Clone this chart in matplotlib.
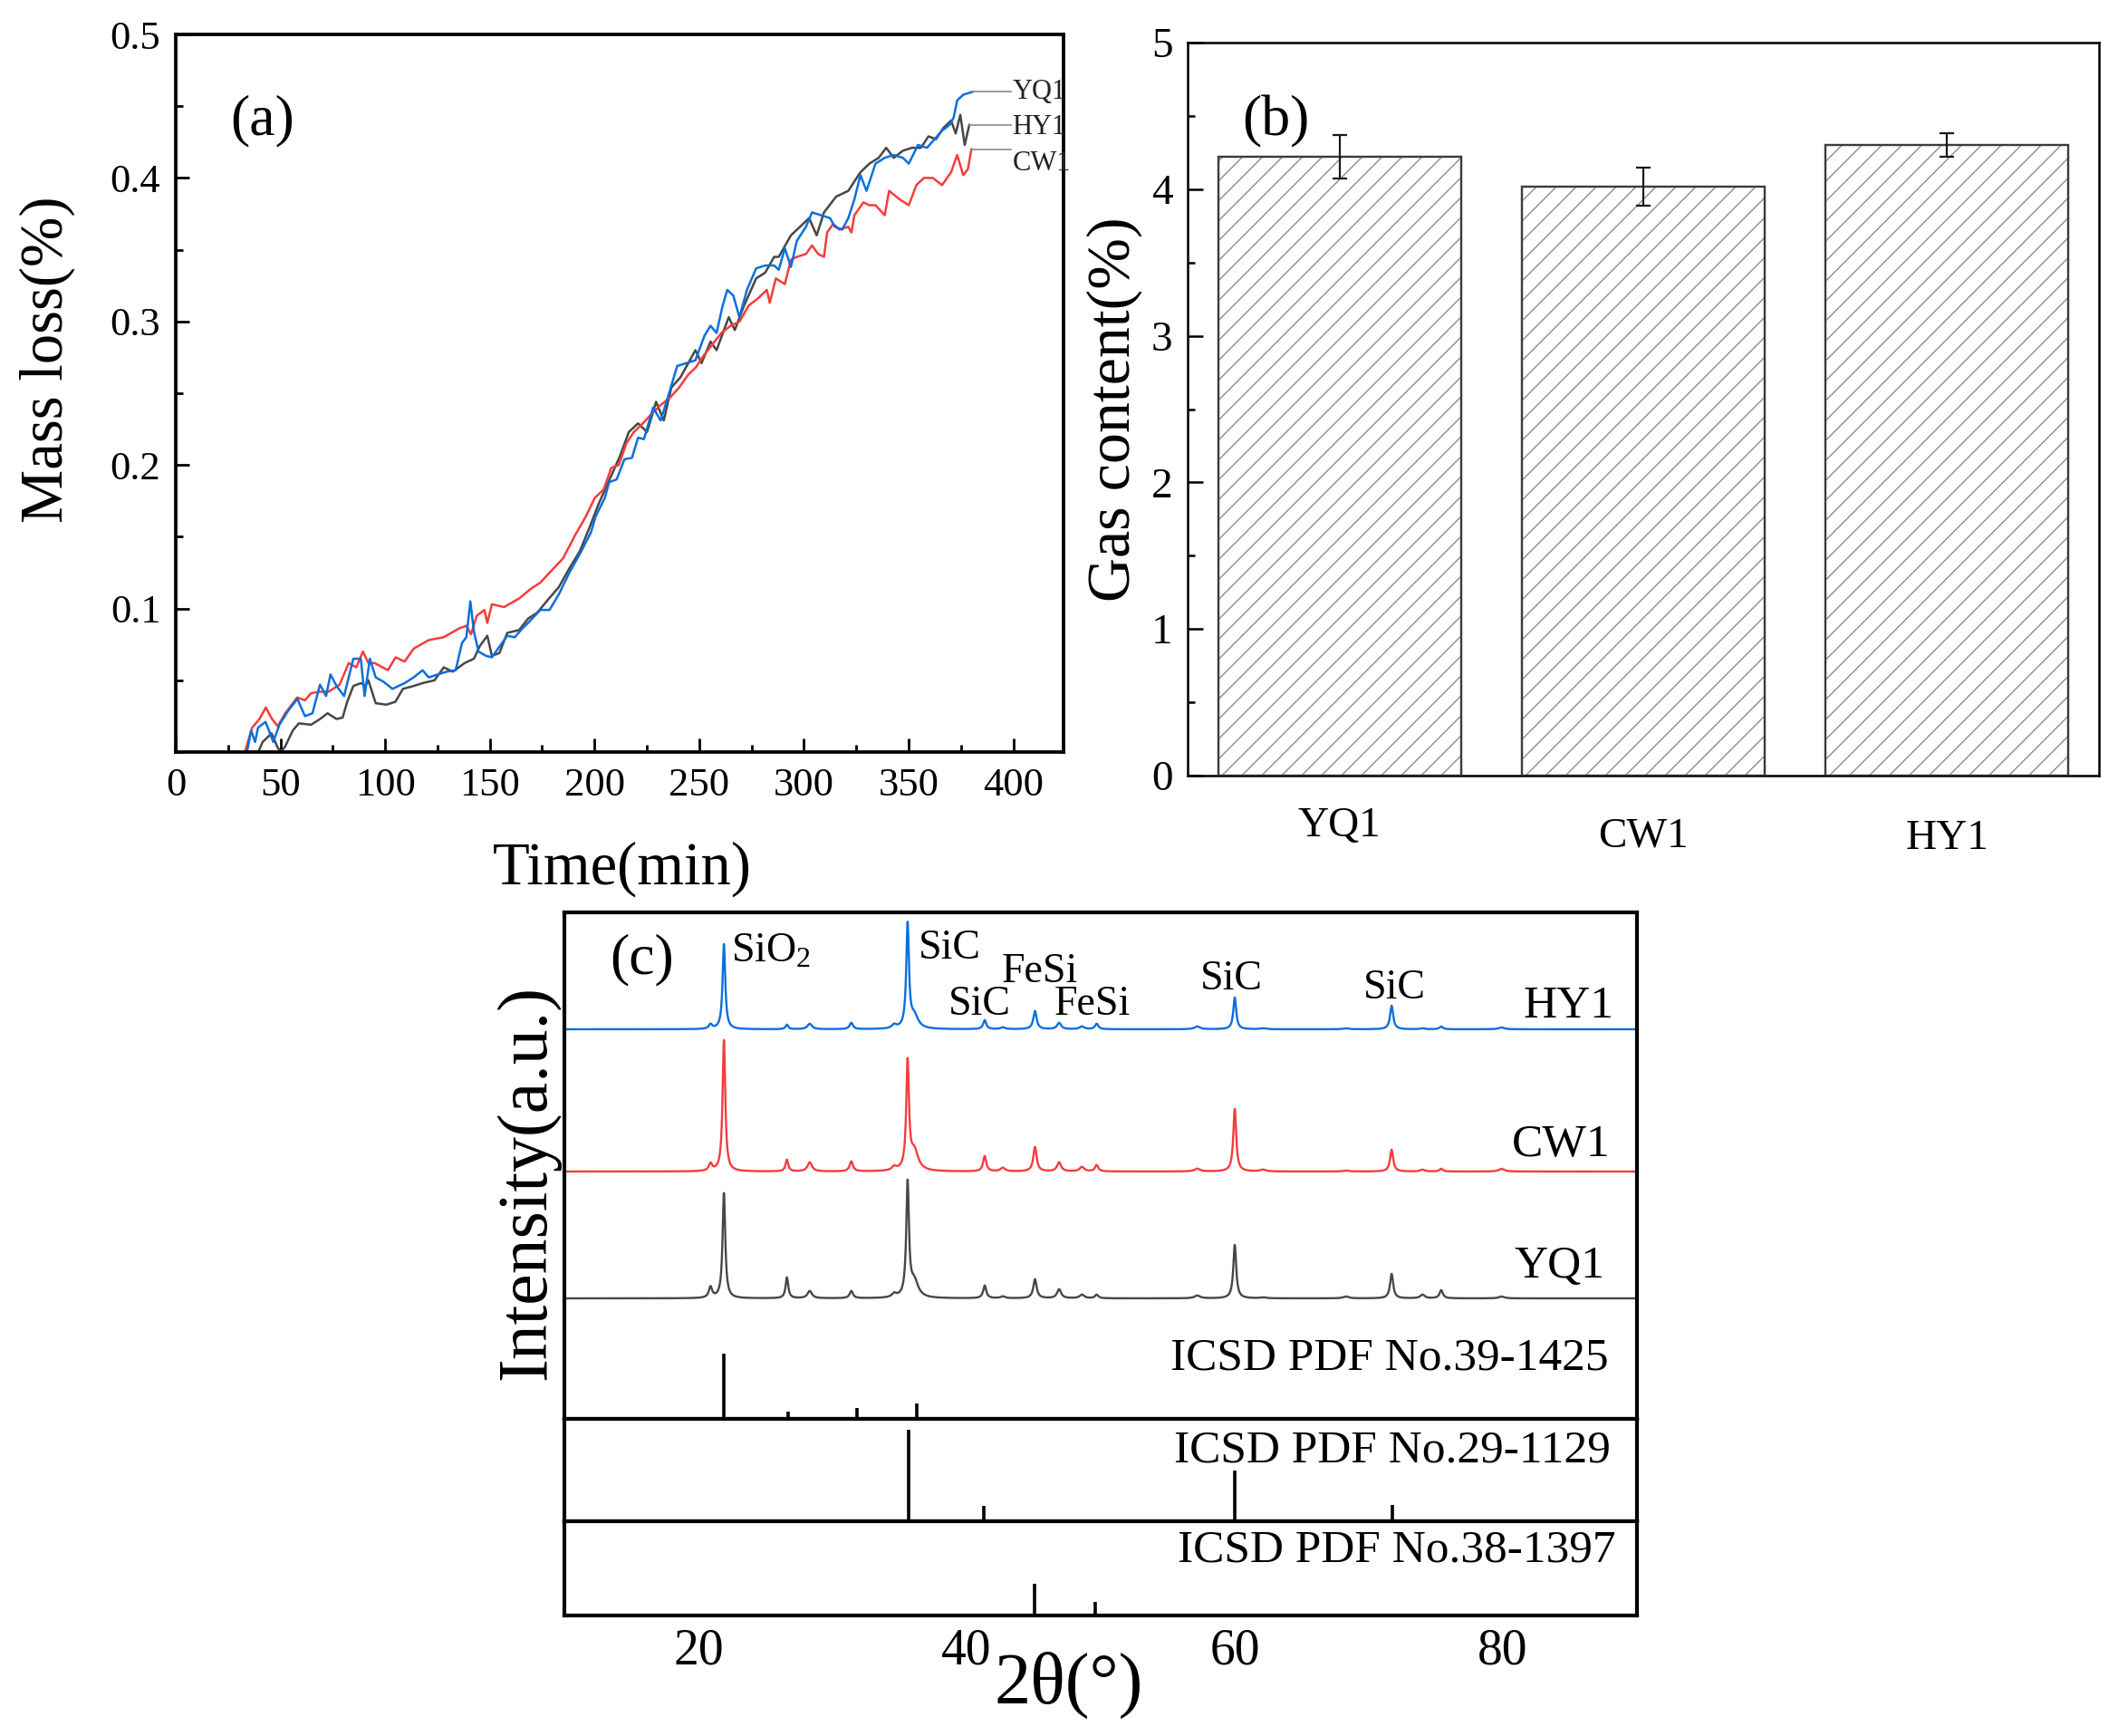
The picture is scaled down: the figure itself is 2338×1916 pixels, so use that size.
import numpy as np
import matplotlib
matplotlib.use("Agg")
import matplotlib.pyplot as plt
from matplotlib.ticker import MultipleLocator
from matplotlib.transforms import IdentityTransform, ScaledTranslation

plt.rcParams['font.family'] = ['Liberation Serif', 'DejaVu Serif']
plt.rcParams['mathtext.fontset'] = 'custom'
plt.rcParams['mathtext.rm'] = 'Liberation Serif'
plt.rcParams['mathtext.it'] = 'Liberation Serif:italic'

# ---- (a) mass loss vs time ----
cw1_t = [33, 36.5, 40, 43, 46, 48.7, 52.3, 58, 61.7, 64.6, 69, 73, 78.3, 82.6, 86.2, 89.4, 92, 95,
         101.3, 105, 109.3, 113.6, 120.8, 128, 135.2, 138.8, 141, 143.8, 147.4, 148.8, 151, 156.8,
         164, 169.8, 174.1, 179.2, 185, 190.7, 195.8, 200.1, 204.4, 208, 211.6, 215.2, 218.8, 223.1,
         227.5, 231.8, 236.1, 240.4, 244.8, 248.4, 252, 256.3, 260.6, 265, 269.3, 273.6, 278, 282.3,
         283.7, 286.6, 290.9, 293.8, 296.6, 301, 303.9, 306.8, 309.6, 311.1, 314, 316.9, 321.2, 322.7,
         324.1, 328.4, 331.3, 334.2, 338.6, 340.7, 345.8, 350.1, 353.7, 357.3, 361.6, 366, 370.3,
         373.2, 376.1, 378.3, 380]
cw1_v = [0, 0.017, 0.023, 0.031, 0.023, 0.018, 0.027, 0.038, 0.036, 0.041, 0.042, 0.042, 0.047,
         0.062, 0.059, 0.070, 0.062, 0.062, 0.057, 0.066, 0.063, 0.072, 0.078, 0.080, 0.086, 0.088,
         0.082, 0.095, 0.099, 0.090, 0.103, 0.101, 0.107, 0.114, 0.118, 0.126, 0.135, 0.151, 0.164,
         0.177, 0.183, 0.198, 0.200, 0.215, 0.223, 0.229, 0.236, 0.242, 0.247, 0.254, 0.263, 0.268,
         0.276, 0.284, 0.292, 0.297, 0.300, 0.311, 0.316, 0.322, 0.313, 0.330, 0.326, 0.343, 0.345,
         0.347, 0.353, 0.347, 0.345, 0.362, 0.368, 0.364, 0.366, 0.362, 0.374, 0.383, 0.381, 0.381,
         0.374, 0.391, 0.385, 0.381, 0.395, 0.400, 0.400, 0.395, 0.404, 0.416, 0.402, 0.406, 0.420]

yq1_t = [34, 36, 37.9, 39.3, 42.9, 46.6, 49.5, 53.8, 58.1, 61.7, 65.3, 68.9, 71.8, 73.9, 76.8, 80.4,
         84.8, 88.4, 90.2, 92.7, 95.5, 99.2, 103.5, 109.3, 113.6, 117.9, 120.8, 125.1, 129.4, 133.7,
         136.7, 138.8, 140.7, 142.4, 144.6, 148.2, 151, 153.9, 158.3, 161.9, 165.5, 168.3, 174.1,
         178.5, 183, 188, 193, 198.3, 200.5, 204.9, 207, 210.6, 214.3, 217.9, 220.8, 223.6, 228,
         231.6, 235.2, 239.5, 243.9, 248.2, 252.5, 255.4, 258.3, 261.2, 263.4, 266.3, 269.2, 272.8,
         277.2, 281.5, 285.8, 288, 290.9, 293.8, 296.6, 301, 303.9, 308.2, 312.5, 314.7, 318.3, 321.2,
         324.1, 327, 329.9, 334.2, 338.6, 342.9, 347.3, 350.1, 354.5, 358.8, 362.4, 366, 369.6, 371.5,
         373.2, 376.1, 380.5]
yq1_v = [0, 0.015, 0.007, 0.017, 0.021, 0.007, 0.019, 0.029, 0.037, 0.025, 0.027, 0.047, 0.039,
         0.054, 0.046, 0.039, 0.065, 0.065, 0.039, 0.065, 0.052, 0.049, 0.044, 0.048, 0.052, 0.057,
         0.052, 0.054, 0.056, 0.057, 0.076, 0.080, 0.105, 0.084, 0.070, 0.067, 0.066, 0.072, 0.081,
         0.080, 0.086, 0.090, 0.099, 0.099, 0.110, 0.125, 0.138, 0.153, 0.164, 0.177, 0.188, 0.190,
         0.204, 0.205, 0.219, 0.218, 0.240, 0.231, 0.248, 0.269, 0.271, 0.273, 0.290, 0.297, 0.292,
         0.311, 0.322, 0.318, 0.303, 0.322, 0.337, 0.339, 0.339, 0.336, 0.351, 0.338, 0.356, 0.366,
         0.376, 0.374, 0.372, 0.366, 0.364, 0.372, 0.385, 0.402, 0.391, 0.410, 0.414, 0.416, 0.414,
         0.410, 0.423, 0.421, 0.427, 0.433, 0.437, 0.442, 0.454, 0.458, 0.460]

hy1_t = [39.4, 41.5, 45.8, 48.7, 50.2, 52.3, 55.9, 58.8, 64.6, 68.9, 72.5, 76.8, 79.7, 81.9, 84.8,
         88.4, 90.6, 92, 95.5, 100.6, 104.9, 108.5, 113.6, 117.9, 123.6, 128, 132.3, 138, 142.4,
         145.3, 148.8, 151, 154.6, 158.3, 164, 168.3, 172.6, 177.7, 183, 188, 193, 197.5, 202, 206.3,
         212.1, 216.4, 220.8, 225.1, 229.4, 233.1, 236.7, 241, 248.2, 251.1, 255.4, 258.3, 264.1, 267,
         271.4, 277.2, 281.5, 285.8, 288, 293.8, 299.6, 302.5, 306.1, 309.6, 315.4, 321.2, 327, 331.3,
         335.7, 339.3, 342.9, 347.3, 351.6, 355.9, 359.5, 363.1, 366.7, 370.3, 372.5, 374.7, 376.8, 379]
hy1_v = [0, 0.007, 0.013, 0.003, 0, 0.004, 0.015, 0.020, 0.019, 0.023, 0.027, 0.023, 0.024, 0.035,
         0.046, 0.048, 0.046, 0.050, 0.034, 0.033, 0.035, 0.044, 0.046, 0.048, 0.050, 0.059, 0.056,
         0.062, 0.065, 0.074, 0.081, 0.067, 0.069, 0.083, 0.085, 0.093, 0.097, 0.106, 0.115, 0.128,
         0.140, 0.156, 0.173, 0.187, 0.206, 0.223, 0.229, 0.223, 0.244, 0.231, 0.254, 0.261, 0.280,
         0.271, 0.286, 0.280, 0.303, 0.294, 0.311, 0.330, 0.334, 0.345, 0.345, 0.360, 0.368, 0.372,
         0.360, 0.376, 0.387, 0.391, 0.404, 0.410, 0.414, 0.421, 0.414, 0.419, 0.421, 0.421, 0.429,
         0.427, 0.435, 0.440, 0.431, 0.444, 0.423, 0.437]

# ---- (b) gas content ----
samples = ['YQ1', 'CW1', 'HY1']
gas = [4.22, 4.02, 4.30]
gas_err = [0.15, 0.13, 0.08]

# ---- (c) XRD ----
peak_pos = [20.9, 21.9, 26.6, 28.3, 31.4, 34.6, 35.6, 36.1, 41.35, 42.7, 45.1, 46.9, 48.6, 49.7,
            57.2, 60.0, 62.1, 68.3, 71.7, 74.0, 75.4, 79.9]
peak_hw = [0.15, 0.12, 0.12, 0.2, 0.15, 0.2, 0.12, 0.35, 0.14, 0.2, 0.15, 0.18, 0.2, 0.15,
           0.25, 0.13, 0.25, 0.25, 0.14, 0.2, 0.15, 0.25]
hy1_int = [5, 94, 5, 6, 7, 4, 114, 14, 10, 2, 20, 7, 3, 6, 3, 35, 1, 1, 26, 1, 3, 2]
cw1_int = [8, 145, 13, 10, 11, 4, 118, 22, 17, 4, 27, 10, 5, 7, 3, 69, 2, 1, 24, 2, 3, 3]
yq1_int = [12, 116, 23, 8, 8, 4, 125, 18, 14, 2, 21, 10, 4, 4, 3, 59, 1, 2, 27, 4, 9, 2]

ref_39_1425_pos = [21.9, 26.7, 31.8, 36.3]
ref_39_1425_int = [72, 8, 12, 17]
ref_29_1129_pos = [35.65, 41.3, 60.0, 71.75]
ref_29_1129_int = [101, 17, 56, 18]
ref_38_1397_pos = [45.1, 49.6]
ref_38_1397_int = [35, 15]

peak_names = ['SiO$_2$', 'SiC', 'FeSi', 'SiC', 'FeSi', 'SiC', 'SiC']
peak_name_x = [22.45, 36.4, 42.6, 38.65, 46.5, 57.4, 69.6]
peak_name_y = [516, 519, 493, 457, 457, 485, 475]

BLUE = '#0b6fdd'
RED = '#f63c3c'
GRAY = '#474747'

W, H = 2338, 1916
fig = plt.figure(figsize=(W / 100, H / 100), dpi=100)


def px_axes(l, t, r, b):
    return fig.add_axes([l / W, 1 - b / H, (r - l) / W, (b - t) / H])


# ================= panel (a) =================
ax = px_axes(194, 38, 1174, 830)
ax.plot(hy1_t, hy1_v, color=GRAY, lw=1.8)
ax.plot(cw1_t, cw1_v, color=RED, lw=1.8)
ax.plot(yq1_t, yq1_v, color=BLUE, lw=1.8)
for tt, vv, name, ty in [(yq1_t, yq1_v, 'YQ1', 0.460), (hy1_t, hy1_v, 'HY1', 0.435),
                         (cw1_t, cw1_v, 'CW1', 0.410)]:
    ax.plot([tt[-1], 399], [vv[-1], vv[-1]], color='#8a8a8a', lw=1.2)
    ax.text(399.5, ty, name, fontsize=22, ha='left', va='center', color='#222222')
ax.set_xlim(0, 424)
ax.set_ylim(0, 0.5)
ax.set_xticks(np.arange(0, 401, 50))
ax.set_yticks([0.1, 0.2, 0.3, 0.4, 0.5])
ax.set_yticklabels(['0.1', '0.2', '0.3', '0.4', '0.5'])
ax.xaxis.set_minor_locator(MultipleLocator(25))
ax.yaxis.set_minor_locator(MultipleLocator(0.05))
ax.tick_params(which='major', direction='in', length=11, width=2, labelsize=32, pad=12,
               top=False, right=False)
ax.tick_params(which='minor', direction='in', length=6, width=2, top=False, right=False)
for s in ax.spines.values():
    s.set_linewidth(2.7)
ax.set_xlabel('Time(min)', fontsize=48)
ax.xaxis.label.set_va('center')
ax.xaxis.set_label_coords(0.503, -0.163)
ax.set_ylabel('Mass loss(%)', fontsize=48)
ax.yaxis.label.set_va('center')
ax.yaxis.set_label_coords(-0.145, 0.547)
ax.text(0.098, 0.879, '(a)', transform=ax.transAxes, fontsize=46, ha='center', va='center')

# ================= panel (b) =================
bx = px_axes(1311, 47, 2317, 856)
xb = np.arange(len(samples))
bx.set_xlim(-0.5, 2.5)
bx.set_ylim(0, 5)
bars = bx.bar(xb, gas, width=0.8, color='white', edgecolor='#3c3c3c', linewidth=1.6, zorder=2)
# diagonal hatching, drawn in pixel space so the spacing matches the original
for rect in bars:
    bb = rect.get_window_extent()
    step = 22
    for c in np.arange(-bb.width, bb.height, step):
        ln = bx.plot([bb.x0, bb.x1], [bb.y0 + c, bb.y0 + c + bb.width], color='#8c8c8c',
                     lw=1.0, transform=IdentityTransform(), zorder=2.5)[0]
        ln.set_clip_path(rect)
bx.bar(xb, gas, width=0.8, fill=False, edgecolor='#3c3c3c', linewidth=1.6, zorder=3)
bx.errorbar(xb, gas, yerr=gas_err, fmt='none', ecolor='#1a1a1a', elinewidth=1.6,
            capsize=5.5, capthick=1.6, zorder=4)
bx.set_xticks(xb)
bx.set_xticklabels(samples)
bx.yaxis.set_major_locator(MultipleLocator(1))
bx.yaxis.set_minor_locator(MultipleLocator(0.5))
bx.tick_params(axis='x', length=0, labelsize=34, pad=25)
bx.tick_params(axis='y', which='major', direction='in', length=12, width=1.8, labelsize=34, pad=12)
bx.tick_params(axis='y', which='minor', direction='in', length=6, width=1.8)
for lbl, dy in zip(bx.get_xticklabels(), [0.0, -0.11, -0.14]):
    lbl.set_transform(lbl.get_transform() + ScaledTranslation(0, dy, fig.dpi_scale_trans))
for s in bx.spines.values():
    s.set_linewidth(1.8)
bx.set_ylabel('Gas content(%)', fontsize=49)
bx.yaxis.label.set_va('center')
bx.yaxis.set_label_coords(-0.0805, 0.50)
bx.text(0.0964, 0.8925, '(b)', transform=bx.transAxes, fontsize=46, ha='center', va='center')

# ================= panel (c) =================
c1 = px_axes(623, 1007, 1807, 1566)
c2 = px_axes(623, 1566, 1807, 1679)
c3 = px_axes(623, 1679, 1807, 1783)

x2t = np.linspace(10, 90, 4001)


def profile(intens):
    y = np.zeros_like(x2t)
    for p, w, h in zip(peak_pos, peak_hw, intens):
        y += h / (1 + ((x2t - p) / w) ** 2)
    return y


c1.plot(x2t, 133 + profile(yq1_int), color=GRAY, lw=1.7)
c1.plot(x2t, 273 + profile(cw1_int), color=RED, lw=1.7)
c1.plot(x2t, 430 + profile(hy1_int), color=BLUE, lw=1.7)
c1.vlines(ref_39_1425_pos, 0, ref_39_1425_int, color='black', lw=2.6)
c2.vlines(ref_29_1129_pos, 0, ref_29_1129_int, color='black', lw=2.6)
c3.vlines(ref_38_1397_pos, 0, ref_38_1397_int, color='black', lw=2.6)

c1.set_ylim(0, 559)
c2.set_ylim(0, 113)
c3.set_ylim(0, 104)
for a in (c1, c2, c3):
    a.set_xlim(10, 90)
    a.set_yticks([])
    for s in a.spines.values():
        s.set_linewidth(3)
for a in (c1, c2):
    a.set_xticks([])
c3.set_xticks([20, 40, 60, 80])
c3.tick_params(axis='x', length=0, labelsize=40, pad=10)

for name, tx, ty in zip(peak_names, peak_name_x, peak_name_y):
    c1.text(tx, ty, name, fontsize=33, ha='left', va='center')
c1.text(88.3, 455, 'HY1', fontsize=37, ha='right', va='center')
c1.text(88.0, 302, 'CW1', fontsize=37, ha='right', va='center')
c1.text(87.6, 168, 'YQ1', fontsize=37, ha='right', va='center')
c1.text(87.9, 67, 'ICSD PDF No.39-1425', fontsize=37, ha='right', va='center')
c2.text(88.0, 0.69, 'ICSD PDF No.29-1129', fontsize=37, ha='right', va='center',
        transform=c2.get_xaxis_transform())
c3.text(88.4, 0.69, 'ICSD PDF No.38-1397', fontsize=37, ha='right', va='center',
        transform=c3.get_xaxis_transform())
c1.text(0.0725, 0.907, '(c)', transform=c1.transAxes, fontsize=46, ha='center', va='center')

c1.set_ylabel('Intensity(a.u.)', fontsize=56)
c1.yaxis.label.set_va('center')
c1.yaxis.set_label_coords(-0.0346, 0.467)
c3.set_xlabel('2θ(°)', fontsize=58)
c3.xaxis.label.set_va('center')
c3.xaxis.set_label_coords(0.470, -0.74)

fig.savefig('out.png', dpi=100, facecolor='white')
